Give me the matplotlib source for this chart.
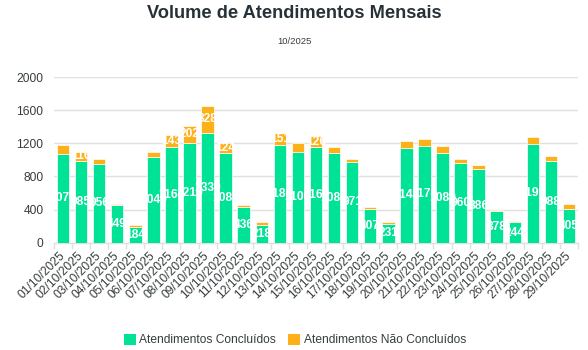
import matplotlib
matplotlib.use("Agg")
import matplotlib.pyplot as plt
from matplotlib.patches import Patch
import numpy as np

plt.rcParams['font.family'] = ['Liberation Sans', 'DejaVu Sans']

dates = ["01/10/2025", "02/10/2025", "03/10/2025", "04/10/2025", "05/10/2025",
         "06/10/2025", "07/10/2025", "08/10/2025", "09/10/2025", "10/10/2025",
         "11/10/2025", "12/10/2025", "13/10/2025", "14/10/2025", "15/10/2025",
         "16/10/2025", "17/10/2025", "18/10/2025", "19/10/2025", "20/10/2025",
         "21/10/2025", "22/10/2025", "23/10/2025", "24/10/2025", "25/10/2025",
         "26/10/2025", "27/10/2025", "28/10/2025", "29/10/2025"]
concluidos = [1070, 985, 956, 449, 184, 1040, 1160, 1210, 1330, 1080,
              436, 218, 1180, 1100, 1160, 1080, 971, 407, 231, 1140,
              1170, 1080, 960, 886, 378, 244, 1190, 988, 405]
nao_concluidos = [105, 116, 52, 16, 24, 62, 143, 202, 328, 124,
                  22, 34, 151, 100, 126, 80, 40, 20, 22, 85,
                  80, 86, 56, 50, 22, 14, 86, 55, 62]

GREEN = "#00E396"
ORANGE = "#FEB019"
TXT = "#373d3f"
GRID = "#e0e0e0"

W, H = 588, 350
fig = plt.figure(figsize=(W / 100, H / 100), dpi=100)
L, R, B, T = 54, 578, 242.6, 77.3
ax = fig.add_axes([L / W, 1 - B / H, (R - L) / W, (B - T) / H])

x = np.arange(len(dates))
bw = 0.69
bars_g = ax.bar(x, concluidos, width=bw, color=GREEN, edgecolor="white", linewidth=0.5, zorder=3)
bars_o = ax.bar(x, nao_concluidos, width=bw, bottom=concluidos, color=ORANGE,
                edgecolor="white", linewidth=0.5, zorder=3)

lab_fs = 12 * 0.72
for xi, g, o, pg, po in zip(x, concluidos, nao_concluidos, bars_g.patches, bars_o.patches):
    t = ax.text(xi, g / 2, str(g), ha="center", va="center", color="white",
                fontsize=lab_fs, fontweight="bold", zorder=4)
    t.set_clip_path(pg)
    if o >= 110:
        t2 = ax.text(xi, g + o / 2, str(o), ha="center", va="center", color="white",
                     fontsize=lab_fs, fontweight="bold", zorder=4)
        t2.set_clip_path(po)

ax.set_xlim(-0.5, len(dates) - 0.5)
ax.set_ylim(0, 2000)
ax.set_yticks(np.arange(0, 2001, 400))
ax.yaxis.grid(True, color=GRID, linewidth=1, zorder=0)
for s in ["top", "right", "left"]:
    ax.spines[s].set_visible(False)
ax.spines["bottom"].set_color(GRID)
ax.spines["bottom"].set_linewidth(1)

ax.tick_params(axis="y", length=0, pad=7.5, labelsize=12 * 0.72, labelcolor=TXT)
ax.set_xticks(x)
ax.set_xticklabels(dates, rotation=45, ha="right", va="center",
                   rotation_mode="anchor", fontsize=12 * 0.72, color=TXT)
ax.tick_params(axis="x", which="major", length=0, pad=8)
ax.set_xticks(np.arange(-0.5, len(dates), 1), minor=True)
ax.tick_params(axis="x", which="minor", length=4.3, color=GRID, width=1)

fig.text(294 / W, 1 - 14 / H, "Volume de Atendimentos Mensais", ha="center", va="center",
         fontsize=18.3 * 0.72, fontweight="bold", color="#263238")
fig.text(294 / W, 1 - 42 / H, "10/2025", ha="center", va="center",
         fontsize=9.5 * 0.72, color=TXT)

handles = [Patch(facecolor=GREEN, edgecolor="none", label="Atendimentos Concluídos"),
           Patch(facecolor=ORANGE, edgecolor="none", label="Atendimentos Não Concluídos")]
fig.legend(handles=handles, loc="center", bbox_to_anchor=(295 / W, 1 - 340 / H), ncol=2,
           frameon=False, fontsize=12 * 0.72, handlelength=1.0, handleheight=1.0,
           handletextpad=0.3, columnspacing=1.0, labelcolor=TXT)

fig.savefig("out.png", dpi=100)
